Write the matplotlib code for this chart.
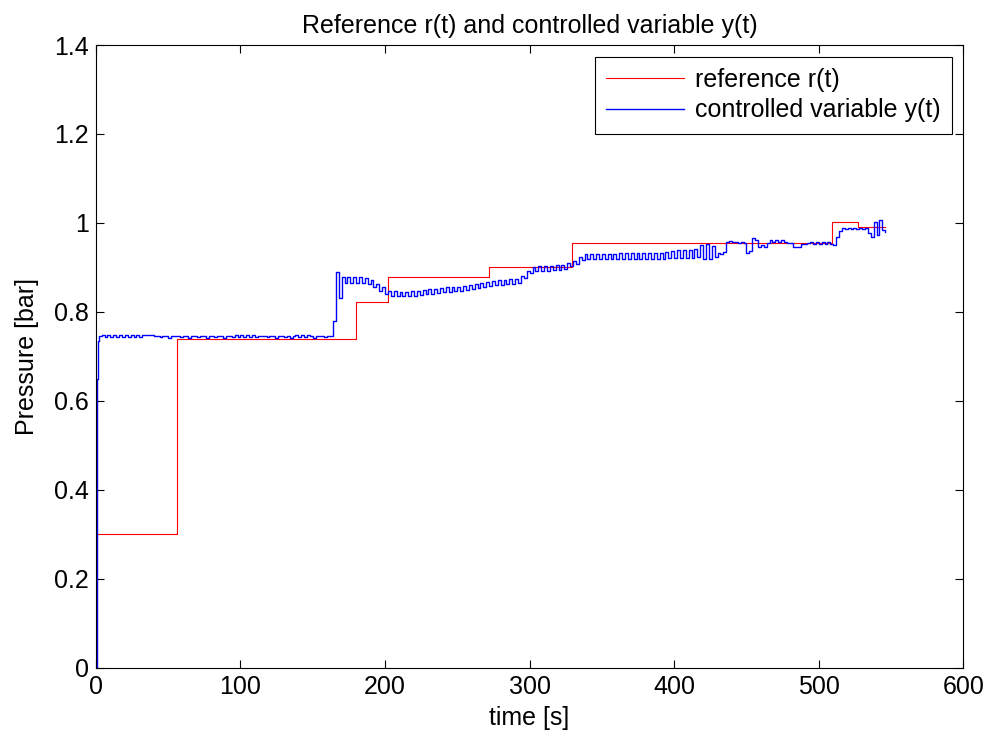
import numpy as np
import matplotlib
matplotlib.use("Agg")
import matplotlib.pyplot as plt
from matplotlib.ticker import FormatStrFormatter

plt.rcParams['font.family'] = ['Liberation Sans', 'DejaVu Sans']

# Reference r(t): piecewise-constant set-points
ref_switch_times = [0, 56, 180, 202, 272, 329, 509, 527, 545.5]
ref_levels = [0.300, 0.740, 0.822, 0.879, 0.900, 0.954, 1.003, 0.990]

# Controlled variable y(t): initial transient
y_start_t = [0.0, 0.6, 1.2]
y_start = [0.000, 0.650, 0.735]

# Sampled pressure (in mbar), every 2 s starting at t = 2 s
y_dt = 2.0
y_t0 = 2.0
y_hold = [
    745, 749, 743, 749, 743, 749, 743, 749, 743, 749,
    743, 749, 743, 749, 743, 749, 748, 748, 748, 745,
    745, 743, 745, 745, 742, 745, 745, 745, 743, 745,
    745, 742, 745, 745, 743, 745, 745, 742, 745, 745,
    743, 745, 745, 742, 745, 745, 743, 749, 743, 749,
    743, 749, 743, 749, 743, 747, 747, 745, 743, 745,
    745, 742, 745, 745, 743, 745, 742, 745, 749, 743,
    749, 743, 749, 745, 742, 745, 745, 745, 743, 745,
]
y_climb = [
    745, 780, 890, 832, 878, 866, 878, 866, 878, 866,
    878, 866, 877, 863, 872, 856, 863, 847, 855, 840,
    848, 837, 846, 835, 845, 835, 845, 836, 846, 837,
    848, 838, 849, 840, 851, 841, 852, 843, 854, 844,
    855, 845, 856, 846, 857, 848, 859, 850, 861, 852,
    863, 854, 865, 856, 867, 858, 869, 860, 871, 861,
    872, 862, 873, 863, 874, 866, 881, 877, 893, 888,
    901, 892, 903, 893, 903, 893, 904, 894, 905, 895,
    906, 897, 910, 903, 915, 908, 923, 917, 931, 920,
]
y_final = [
    931, 919, 931, 919, 931, 919, 931, 919, 931, 918,
    932, 918, 932, 918, 932, 918, 932, 918, 932, 918,
    932, 918, 932, 918, 932, 918, 934, 921, 936, 922,
    940, 922, 940, 922, 940, 922, 942, 924, 950, 920,
    953, 918, 948, 924, 933, 930, 935, 957, 960, 957,
    958, 954, 958, 954, 933, 938, 966, 962, 947, 951,
    946, 954, 962, 958, 962, 958, 962, 958, 954, 954,
    947, 947, 947, 952, 952, 955, 957, 953, 957, 953,
    957, 953, 957, 953, 951, 968, 981, 989, 986, 989,
    986, 989, 986, 989, 986, 989, 977, 969, 1003, 973,
    1006, 985, 979,
]

samples = np.array(y_hold + y_climb + y_final, dtype=float) / 1000.0
t_samples = y_t0 + y_dt * np.arange(len(samples))
t_y = np.concatenate([y_start_t, t_samples])
y = np.concatenate([y_start, samples])

# stair representation of the reference
t_r = np.array(ref_switch_times)
r = np.array(ref_levels + [ref_levels[-1]])

FS = 18

fig = plt.figure(figsize=(9.89, 7.38), dpi=100)
ax = fig.add_axes([0.097, 0.095, 0.877, 0.844])

ax.plot(t_r, r, color='#ff0000', lw=0.8, drawstyle='steps-post', label='reference r(t)')
ax.plot(t_y, y, color='#0000ff', lw=1.0, drawstyle='steps-post', label='controlled variable y(t)')

ax.set_xlim(0, 600)
ax.set_ylim(0, 1.4)
ax.set_xticks(np.arange(0, 601, 100))
ax.set_yticks(np.arange(0, 1.41, 0.2))
ax.yaxis.set_major_formatter(FormatStrFormatter('%g'))
ax.tick_params(direction='in', length=6, width=0.8, top=True, right=True,
               labelsize=FS, pad=5, colors='black')
for s in ax.spines.values():
    s.set_linewidth(0.8)

ax.set_xlabel('time [s]', fontsize=FS, labelpad=5)
ax.set_ylabel('Pressure [bar]', fontsize=FS, labelpad=11)
ax.set_title('Reference r(t) and controlled variable y(t)', fontsize=FS, pad=9)

leg = ax.legend(loc='upper right', bbox_to_anchor=(0.987, 0.981), borderaxespad=0,
                fontsize=FS, frameon=True, fancybox=False, edgecolor='black',
                framealpha=1, handlelength=3.1, handletextpad=0.45,
                borderpad=0.45, labelspacing=0.25)
leg.get_frame().set_linewidth(0.8)

fig.savefig('out.png', dpi=100)
